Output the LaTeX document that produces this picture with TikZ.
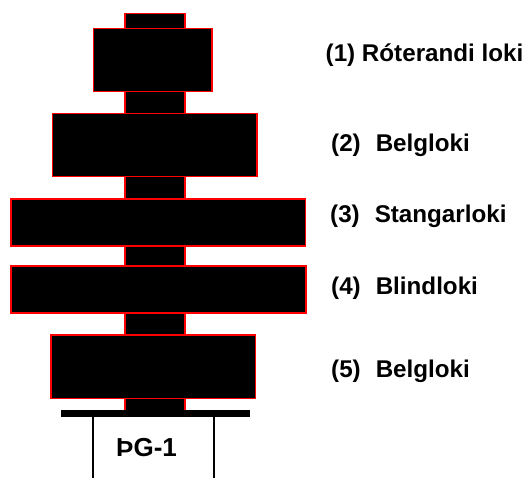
\documentclass[tikz,border=0pt]{standalone}
\usepackage{fontspec}
\setmainfont{Liberation Sans}
\tikzset{
  x=1pt,y=-1pt,
  part/.style={fill=black,draw=red,line width=1.8pt},
  lbl/.style={anchor=base west,inner sep=0pt,font=\fontsize{24.2}{28}\selectfont\bfseries},
  pglbl/.style={anchor=base west,inner sep=0pt,font=\fontsize{26}{30}\selectfont\bfseries},
  casing/.style={draw=black,line width=1.2pt}
}
\begin{document}
\begin{tikzpicture}
\useasboundingbox (0,0) rectangle (527,478);
% stems
\draw[part] (125,13.5) rectangle (185,28.5);
\draw[part] (125,91.5) rectangle (185,113.5);
\draw[part] (125,176.5) rectangle (185,199);
\draw[part] (125,246) rectangle (185,266);
\draw[part] (125,313) rectangle (185,335);
\draw[part] (125,398.5) rectangle (185,411);
% preventers
\draw[part] (93.5,28.5) rectangle (212,91.5);
\draw[part] (52.5,113.5) rectangle (257,176.5);
\draw[part] (11,199) rectangle (305.5,246);
\draw[part] (11,266) rectangle (306,313);
\draw[part] (51,335) rectangle (255.5,398.5);
% flange and casing
\fill[black] (61,410) rectangle (250,417);
\draw[casing] (93,417) -- (93,478);
\draw[casing] (214,417) -- (214,478);
% labels
\node[lbl] (l1) at (325.5,62) {(1) Róterandi loki};
\node[lbl] (l2) at (331,152) {(2)\hspace{15pt}Belgloki};
\node[lbl] (l3) at (330,223) {(3)\hspace{15pt}Stangarloki};
\node[lbl] (l4) at (331,294) {(4)\hspace{15pt}Blindloki};
\node[lbl] (l5) at (331,377) {(5)\hspace{15pt}Belgloki};
\node[pglbl] (pg) at (116,456) {ÞG-1};
\end{tikzpicture}
\end{document}
